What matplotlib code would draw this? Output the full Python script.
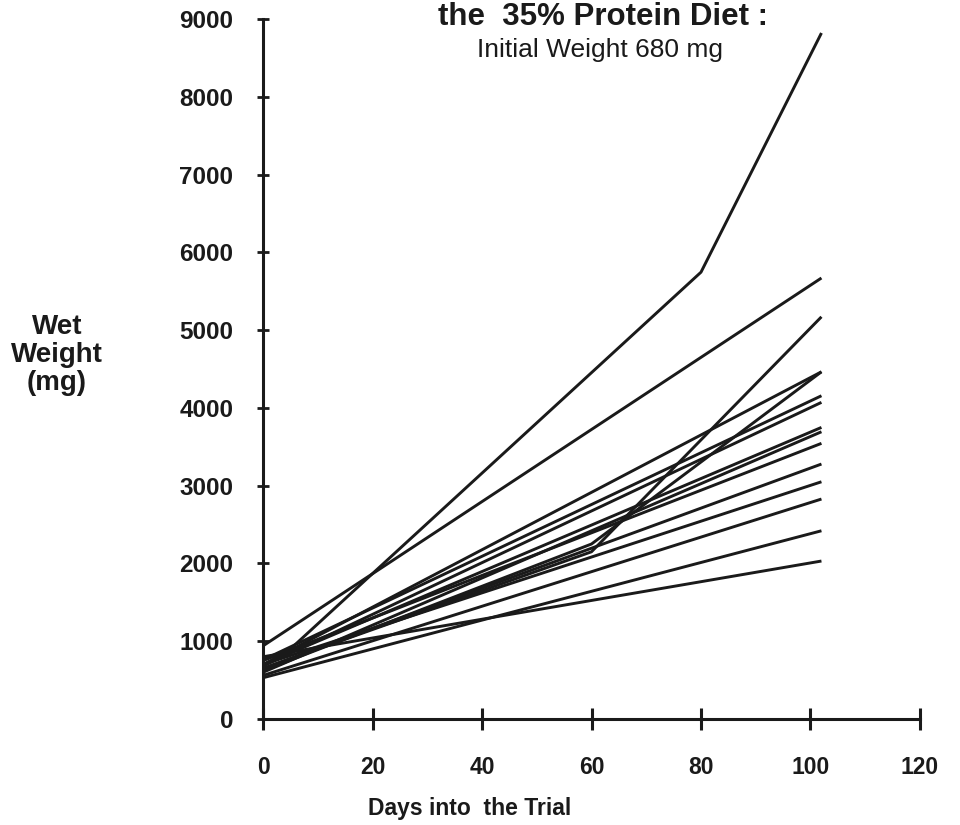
import matplotlib
matplotlib.use("Agg")
import matplotlib.pyplot as plt

plt.rcParams["font.family"] = ["Liberation Sans", "DejaVu Sans"]

# wet weight (mg) of each fish: sampling days and weights
fish_days = [
    [0, 5, 80, 102],
    [0, 102],
    [0, 60, 102],
    [0, 102],
    [0, 60, 102],
    [0, 102],
    [0, 102],
    [0, 102],
    [0, 102],
    [0, 102],
    [0, 102],
    [0, 102],
    [0, 102],
    [0, 102],
    [0, 102],
]
fish_weights = [
    [760, 900, 5745, 8820],
    [940, 5670],
    [650, 2150, 5171],
    [700, 4464],
    [620, 2250, 4464],
    [760, 4156],
    [680, 4071],
    [700, 3749],
    [600, 3693],
    [750, 3544],
    [650, 3278],
    [700, 3050],
    [560, 2828],
    [530, 2420],
    [800, 2031],
]

x_ticks = [0, 20, 40, 60, 80, 100, 120]
y_ticks = [0, 1000, 2000, 3000, 4000, 5000, 6000, 7000, 8000, 9000]

W, H = 960, 825
fig = plt.figure(figsize=(W / 100, H / 100), dpi=100)
ax = fig.add_axes([263 / W, 1 - 719 / H, (920 - 263) / W, (719 - 19) / H])

for days, weights in zip(fish_days, fish_weights):
    ax.plot(days, weights, color="#1a1a1a", lw=2.1, solid_capstyle="butt",
            clip_on=False)

ax.set_xlim(0, 120)
ax.set_ylim(0, 9000)
ax.set_xticks(x_ticks)
ax.set_yticks(y_ticks)
for side in ("top", "right"):
    ax.spines[side].set_visible(False)
for side in ("left", "bottom"):
    ax.spines[side].set_linewidth(2.2)
    ax.spines[side].set_color("#1a1a1a")

ax.tick_params(axis="x", direction="inout", length=16, width=2.2, pad=19,
               colors="#1a1a1a")
ax.tick_params(axis="y", direction="inout", length=9, width=2.0, pad=17,
               colors="#1a1a1a")
for lab in ax.get_xticklabels():
    lab.set_fontweight("bold")
    lab.set_fontsize(16.5)
for lab in ax.get_yticklabels():
    lab.set_fontweight("bold")
    lab.set_fontsize(17.5)

fig.text(57 / W, 1 - 355 / H, "Wet\nWeight\n(mg)", ha="center", va="center",
         fontsize=20, fontweight="bold", linespacing=1.1, color="#1a1a1a")
fig.text(470 / W, 1 - 808 / H, "Days into  the Trial", ha="center",
         va="center", fontsize=16.5, fontweight="bold", color="#1a1a1a")
fig.text(603 / W, 1 - 25 / H, "the  35% Protein Diet :", ha="center",
         va="baseline", fontsize=22.5, fontweight="bold", color="#1a1a1a")
fig.text(600 / W, 1 - 57 / H, "Initial Weight 680 mg", ha="center",
         va="baseline", fontsize=19, color="#1a1a1a")

fig.savefig("out.png", dpi=100, facecolor="white")
